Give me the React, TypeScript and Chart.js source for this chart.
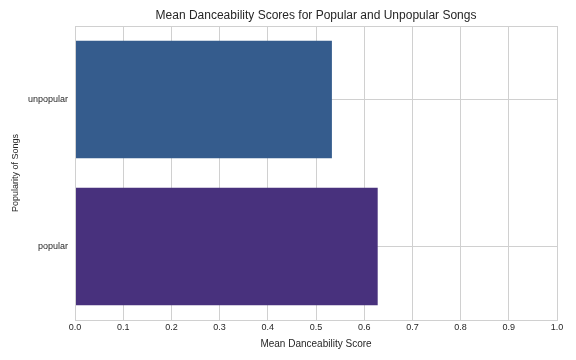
import React, { useEffect, useRef } from "react";
import { Chart, registerables } from "chart.js";

Chart.register(...registerables);

const categories = ["unpopular", "popular"];
const meanDanceability = [0.533, 0.628];
const barColors = ["#355c8d", "#48317d"];
const xTicks = [0, 0.1, 0.2, 0.3, 0.4, 0.5, 0.6, 0.7, 0.8, 0.9, 1.0];
const chartTitle = "Mean Danceability Scores for Popular and Unpopular Songs";

const FONT = "'Liberation Sans', Arial, sans-serif";
const TEXT = "#262626";
const GRID = "#d0d0d0";

const frame = {
  id: "frame",
  afterDatasetsDraw(chart: any) {
    const { ctx, chartArea } = chart;
    ctx.save();
    ctx.strokeStyle = GRID;
    ctx.lineWidth = 1;
    ctx.strokeRect(
      Math.round(chartArea.left) + 0.5,
      Math.round(chartArea.top) + 0.5,
      Math.round(chartArea.right - chartArea.left),
      Math.round(chartArea.bottom - chartArea.top)
    );
    ctx.fillStyle = TEXT;
    ctx.font = `12px ${FONT}`;
    ctx.textAlign = "center";
    ctx.textBaseline = "middle";
    ctx.fillText(chartTitle, (chartArea.left + chartArea.right) / 2, 16);
    ctx.restore();
  },
};

export default function App() {
  const ref = useRef<HTMLCanvasElement>(null);
  useEffect(() => {
    document.body.style.margin = "0";
    const chart = new Chart(ref.current!, {
      type: "bar",
      data: {
        labels: categories,
        datasets: [
          {
            data: meanDanceability,
            backgroundColor: barColors,
            borderWidth: 0,
            categoryPercentage: 1,
            barPercentage: 0.8,
          },
        ],
      },
      options: {
        indexAxis: "y",
        animation: false,
        responsive: false,
        maintainAspectRatio: false,
        layout: { padding: { left: 0, right: 19, top: 26, bottom: 10 } },
        plugins: {
          legend: { display: false },
          tooltip: { enabled: false },
          title: { display: false },
        },
        scales: {
          x: {
            type: "linear",
            min: 0,
            max: 1,
            afterBuildTicks(scale: any) {
              scale.ticks = xTicks.map((v) => ({ value: v }));
            },
            afterFit(scale: any) {
              scale.height = 30;
            },
            ticks: {
              color: TEXT,
              font: { family: FONT, size: 9 },
              padding: 2,
              callback: (v: any) => Number(v).toFixed(1),
            },
            grid: { color: GRID, drawTicks: false, lineWidth: 1 },
            border: { display: false },
            title: {
              display: true,
              text: "Mean Danceability Score",
              color: TEXT,
              font: { family: FONT, size: 10 },
              padding: { top: 3, bottom: 0 },
            },
          },
          y: {
            type: "category",
            afterFit(scale: any) {
              scale.width = 75;
            },
            ticks: {
              color: TEXT,
              font: { family: FONT, size: 9 },
              padding: 7,
            },
            grid: { color: GRID, drawTicks: false, offset: false },
            border: { display: false },
            title: {
              display: true,
              text: "Popularity of Songs",
              color: TEXT,
              font: { family: FONT, size: 9 },
              padding: { top: 10, bottom: 4 },
            },
          },
        },
      },
      plugins: [frame],
    });
    return () => chart.destroy();
  }, []);
  return (
    <div style={{ width: 576, height: 360 }}>
      <canvas ref={ref} width={576} height={360} style={{ display: "block" }} />
    </div>
  );
}
